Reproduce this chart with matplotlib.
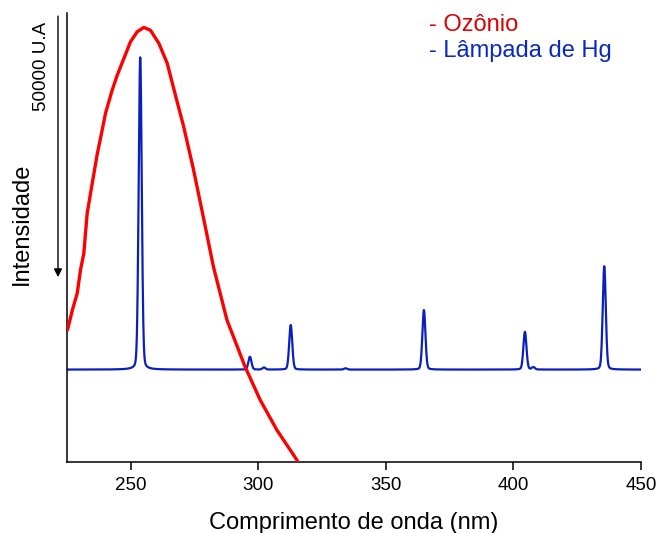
import numpy as np
import matplotlib
matplotlib.use("Agg")
import matplotlib.pyplot as plt

plt.rcParams['font.family'] = ['Liberation Sans', 'DejaVu Sans']

# Ozone absorption band (wavelength in nm, intensity in U.A.)
ozone_nm = [225.2, 227.1, 229.0, 230.3, 231.6, 232.9, 234.9, 236.9, 238.8,
            240.1, 242.7, 244.7, 247.3, 249.9, 252.5, 255.1, 257.7, 261.0,
            264.3, 267.0, 270.7, 274.5, 278.4, 282.4, 287.7, 294.8, 300.7,
            307.3, 315.1, 316.4]
ozone_int = [25300, 29100, 32300, 36800, 40000, 47600, 53400, 59100, 63600,
             66800, 71200, 74100, 77300, 80500, 82400, 83240, 82700, 80200,
             76350, 71200, 64300, 56200, 47000, 37400, 27200, 18250, 11900,
             6100, 400, -1500]

# Hg lamp emission lines: centre (nm) and height above the baseline (U.A.)
hg_baseline = 17700
hg_lines_nm = [253.7, 296.7, 302.2, 312.7, 334.2, 364.9, 404.5, 407.8, 435.6]
hg_lines_height = [59800, 2460, 400, 8530, 250, 11400, 7240, 450, 19800]
hg_line_sigma = 0.6

x_ticks = [250, 300, 350, 400, 450]
x_min, x_max = 225, 450
y_max = 86000
scale_bar = 50000

# Hg spectrum built from its line list (pseudo-Voigt line shape)
wl = np.arange(x_min, x_max + 0.05, 0.05)
hg = np.full_like(wl, hg_baseline, dtype=float)
for c, h in zip(hg_lines_nm, hg_lines_height):
    g = np.exp(-0.5 * ((wl - c) / hg_line_sigma) ** 2)
    gam = hg_line_sigma * 1.2
    lor = 1.0 / (1.0 + ((wl - c) / gam) ** 2)
    hg += h * (0.85 * g + 0.15 * lor)

W, H = 657, 533
fig = plt.figure(figsize=(W / 100, H / 100), dpi=100)
ax = fig.add_axes([67 / W, (H - 462) / H, (641 - 67) / W, (462 - 13) / H])

ax.plot(wl, hg, color='#0a1fbf', lw=1.6, solid_joinstyle='round', zorder=2)
ax.plot(ozone_nm, ozone_int, color='#ff0000', lw=2.4, solid_joinstyle='round',
        solid_capstyle='round', zorder=3)

ax.set_xlim(x_min, x_max)
ax.set_ylim(0, y_max)
ax.set_xticks(x_ticks)
ax.set_xticklabels([str(t) for t in x_ticks], fontsize=13.5)
ax.set_yticks([])
for s in ['top', 'right']:
    ax.spines[s].set_visible(False)
for s in ['left', 'bottom']:
    ax.spines[s].set_linewidth(1.1)
ax.tick_params(axis='x', direction='out', length=6, width=1.1, pad=5)
ax.set_xlabel('Comprimento de onda (nm)', fontsize=17, labelpad=13)

# intensity scale bar on the left, outside the axes
trans = matplotlib.transforms.blended_transform_factory(fig.transFigure, ax.transData)
bar_top = 85400
ax.annotate('', xy=(58 / W, bar_top - scale_bar), xytext=(58 / W, bar_top),
            xycoords=trans, textcoords=trans, annotation_clip=False,
            arrowprops=dict(arrowstyle='-|>', color='black', lw=1.0,
                            mutation_scale=12, shrinkA=0, shrinkB=0))
fig.text(42 / W, 1 - 66 / H, '50000 U.A', rotation=90, fontsize=13.5,
         ha='center', va='center')
fig.text(22 / W, 1 - 224 / H, 'Intensidade', rotation=90, fontsize=17,
         ha='center', va='center')

# legend as coloured text
fig.text(429 / W, 1 - 25 / H, '- Ozônio', color='#dd0000', fontsize=17,
         ha='left', va='center')
fig.text(429 / W, 1 - 51 / H, '- Lâmpada de Hg', color='#0a28c0', fontsize=17,
         ha='left', va='center')

fig.savefig('out.png', dpi=100)
